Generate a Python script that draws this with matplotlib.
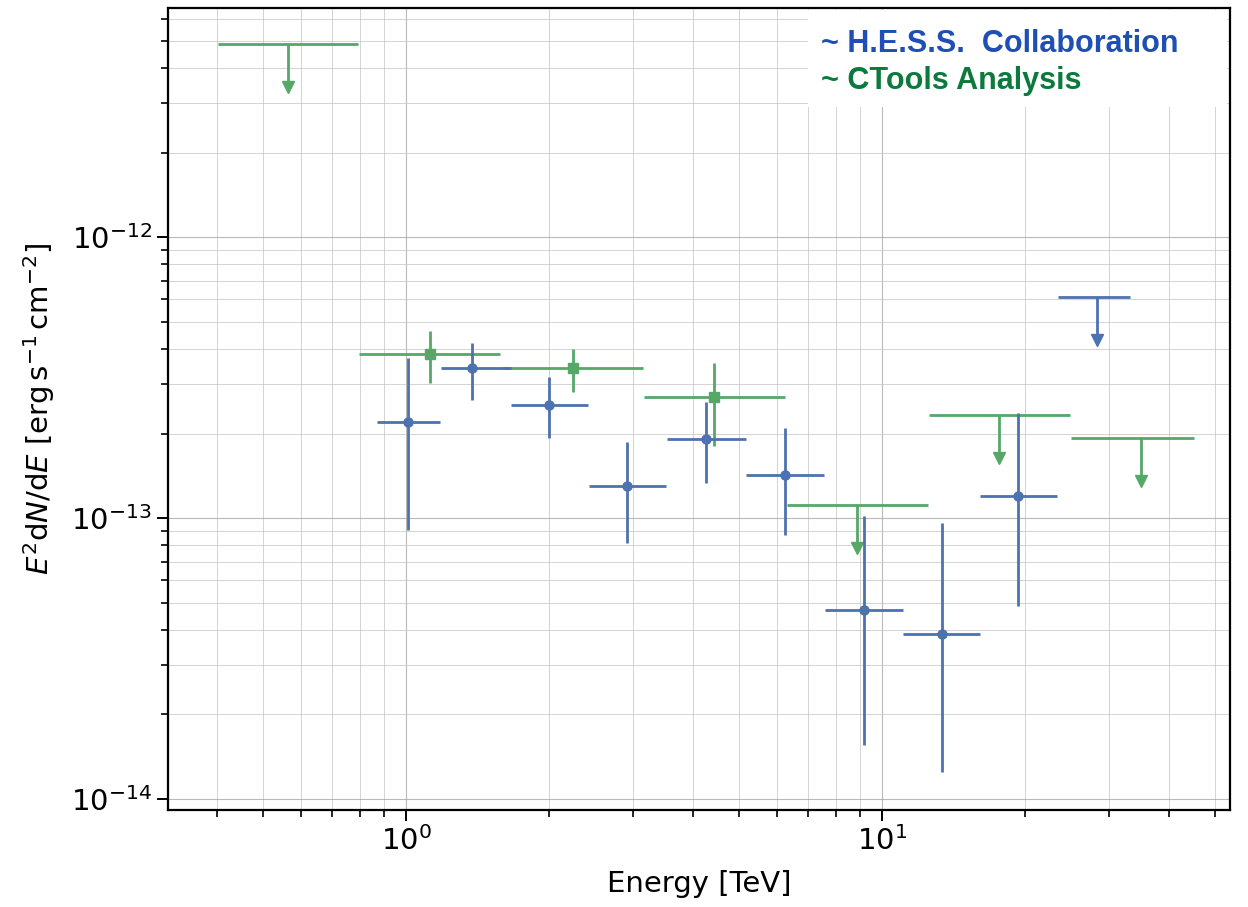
import numpy as np
import matplotlib
matplotlib.use("Agg")
import matplotlib.pyplot as plt
from matplotlib.patches import Rectangle
from matplotlib.ticker import FixedLocator, LogLocator, NullFormatter

# H.E.S.S. data points
hess_e = [1.01, 1.376, 1.997, 2.912, 4.27, 6.26, 9.17, 13.36, 19.31]
hess_elo = [0.869, 1.184, 1.662, 2.424, 3.535, 5.18, 7.58, 11.07, 16.06]
hess_ehi = [1.179, 1.662, 2.412, 3.518, 5.18, 7.55, 11.07, 16.06, 23.31]
hess_f = [2.20e-13, 3.42e-13, 2.52e-13, 1.30e-13, 1.91e-13, 1.42e-13, 4.71e-14, 3.87e-14, 1.20e-13]
hess_fhi = [3.71e-13, 4.20e-13, 3.18e-13, 1.865e-13, 2.59e-13, 2.09e-13, 1.016e-13, 9.6e-14, 2.36e-13]
hess_flo = [9.06e-14, 2.63e-13, 1.93e-13, 8.15e-14, 1.33e-13, 8.70e-14, 1.56e-14, 1.25e-14, 4.86e-14]
# H.E.S.S. upper limits
hess_ul_e = [28.3]
hess_ul_elo = [23.42]
hess_ul_ehi = [33.2]
hess_ul_f = [6.12e-13]

# CTools data points
ct_e = [1.123, 2.243, 4.436]
ct_elo = [0.796, 1.591, 3.163]
ct_ehi = [1.576, 3.148, 6.26]
ct_f = [3.83e-13, 3.42e-13, 2.69e-13]
ct_fhi = [4.63e-13, 3.99e-13, 3.56e-13]
ct_flo = [3.02e-13, 2.81e-13, 1.80e-13]
# CTools upper limits
ct_ul_e = [0.565, 8.86, 17.61, 35.0]
ct_ul_elo = [0.403, 6.32, 12.55, 24.95]
ct_ul_ehi = [0.793, 12.49, 24.83, 45.2]
ct_ul_f = [4.86e-12, 1.11e-13, 2.33e-13, 1.93e-13]

x_major = [1.0, 10.0]
y_major = [1e-14, 1e-13, 1e-12]

BLUE = "#4C72B0"
GREEN = "#55A868"
UL_FACTOR = 0.69

fig = plt.figure(figsize=(12.48, 9.07), dpi=100)
ax = fig.add_axes([168/1248, 1-810/907, (1230-168)/1248, (810-8)/907])
ax.set_xscale("log")
ax.set_yscale("log")


def points(e, elo, ehi, f, flo, fhi, color, marker):
    e = np.array(e); f = np.array(f)
    xerr = [e - np.array(elo), np.array(ehi) - e]
    yerr = [f - np.array(flo), np.array(fhi) - f]
    ax.errorbar(e, f, xerr=xerr, yerr=yerr, fmt=marker, color=color,
                ms=6.5, elinewidth=2.0, capsize=0, zorder=3)


def limits(e, elo, ehi, f, color):
    e = np.array(e); f = np.array(f)
    ax.hlines(f, elo, ehi, color=color, lw=2.0, zorder=3)
    ax.vlines(e, f * UL_FACTOR, f, color=color, lw=2.0, zorder=3)
    ax.plot(e, f * UL_FACTOR * 1.02, "v", color=color, ms=9, zorder=3)


points(ct_e, ct_elo, ct_ehi, ct_f, ct_flo, ct_fhi, GREEN, "s")
limits(ct_ul_e, ct_ul_elo, ct_ul_ehi, ct_ul_f, GREEN)
points(hess_e, hess_elo, hess_ehi, hess_f, hess_flo, hess_fhi, BLUE, "o")
limits(hess_ul_e, hess_ul_elo, hess_ul_ehi, hess_ul_f, BLUE)

ax.set_xlim(0.316, 53.8)
ax.set_ylim(9.14e-15, 6.54e-12)

ax.xaxis.set_major_locator(FixedLocator(x_major))
ax.yaxis.set_major_locator(FixedLocator(y_major))
ax.xaxis.set_minor_locator(LogLocator(base=10, subs=np.arange(2, 10), numticks=20))
ax.yaxis.set_minor_locator(LogLocator(base=10, subs=np.arange(2, 10), numticks=20))
ax.xaxis.set_minor_formatter(NullFormatter())
ax.yaxis.set_minor_formatter(NullFormatter())

ax.grid(True, which="major", color="#a8a8a8", lw=0.8, alpha=0.8)
ax.grid(True, which="minor", color="#c8c8c8", lw=0.7, alpha=0.8)
ax.set_axisbelow(True)

for s in ax.spines.values():
    s.set_linewidth(1.6)
ax.tick_params(which="major", length=8, width=1.4, labelsize=21, direction="out")
ax.tick_params(which="minor", length=5, width=1.2, direction="out")

ax.set_xlabel("Energy [TeV]", fontsize=21, labelpad=10)
ax.set_ylabel(r"$E^2\mathrm{d}N/\mathrm{d}E$ [$\mathrm{erg\,s^{-1}\,cm^{-2}}$]", fontsize=21, labelpad=10)

ax.add_patch(Rectangle((0.603, 0.876), 0.394, 0.122, transform=ax.transAxes,
                       facecolor="white", edgecolor="none", zorder=4))
ax.text(0.615, 0.955, "~ H.E.S.S.  Collaboration", transform=ax.transAxes,
        color="#1f4eb4", fontsize=22, fontweight="bold", family="Liberation Sans",
        va="center", ha="left", zorder=5)
ax.text(0.615, 0.909, "~ CTools Analysis", transform=ax.transAxes,
        color="#0b7a3c", fontsize=22, fontweight="bold", family="Liberation Sans",
        va="center", ha="left", zorder=5)

fig.savefig("out.png", dpi=100)
